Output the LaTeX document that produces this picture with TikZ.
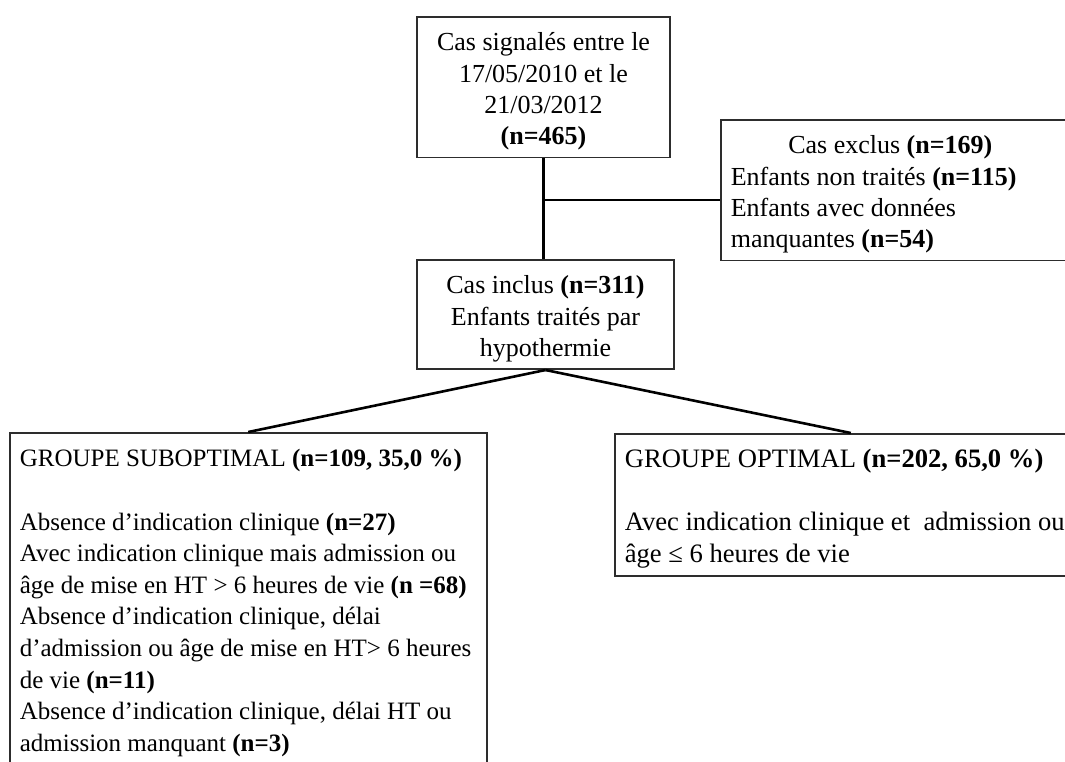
\documentclass[tikz,border=0pt]{standalone}
\usepackage{fontspec}
\setmainfont{Liberation Serif}
\usepackage{tikz}
\usetikzlibrary{positioning,calc}
\definecolor{cadreColor}{RGB}{45,45,45}
\newcommand{\hautL}{\spaceskip=0pt\xspaceskip=0pt\rule{0pt}{13.3pt}}
\tikzset{
    boite/.style={
        draw=cadreColor,
        line width=0.8pt,
        inner xsep=5pt,
        inner ysep=3.7pt,
        font=\fontsize{13}{15.6}\selectfont
    },
    boiteC/.style={
        boite,
        align=center
    },
    boiteG/.style={
        boite,
        align=left,
        anchor=north west
    },
    lien/.style={
        draw=black,
        line width=1.3pt
    }
}

\begin{document}
\begin{tikzpicture}[x=0.5pt, y=-0.5pt]
    \useasboundingbox (0,0) rectangle (1065,761);
    \clip (0,0) rectangle (1065,761);

    % Cas signalés
    \node[boiteC, anchor=north, minimum width=126.5pt] (signales) at (543.5,16)
        {\hautL Cas signalés entre le\\17/05/2010 et le\\21/03/2012\\\textbf{(n=465)}};

    % Cas exclus
    \node[boiteG, text width=167.5pt] (exclus) at (720,119)
        {\hautL\makebox[\hsize]{Cas exclus \textbf{(n=169)}\hspace{8pt}}\\
         Enfants non traités \textbf{(n=115)}\\
         Enfants avec données\\
         manquantes \textbf{(n=54)}};

    % Cas inclus
    \node[boiteC, anchor=north, minimum width=128.5pt] (inclus) at (545.5,259)
        {\hautL Cas inclus \textbf{(n=311)}\\Enfants traités par\\hypothermie};

    % Les deux groupes
    \node[boiteG, text width=228.5pt, font=\fontsize{12.5}{15.8}\selectfont] (subopt) at (9,432)
        {\hautL GROUPE SUBOPTIMAL \textbf{(n=109, 35,0 \%)}\\[15.8pt]
         Absence d'indication clinique \textbf{(n=27)}\\
         Avec indication clinique mais admission ou\\
         âge de mise en HT > 6 heures de vie \textbf{(n =68)}\\
         Absence d'indication clinique, délai\\
         d'admission ou âge de mise en HT> 6 heures\\
         de vie \textbf{(n=11)}\\
         Absence d'indication clinique, délai HT ou\\
         admission manquant \textbf{(n=3)}\rule[-15pt]{0pt}{15pt}};
    \node[boiteG, text width=226pt, font=\fontsize{13.3}{16}\selectfont] (optimal) at (614,433)
        {\hautL GROUPE OPTIMAL \textbf{(n=202, 65,0 \%)}\\[15.5pt]
         Avec indication clinique et\ \ admission ou\\
         âge ≤ 6 heures de vie};

    % Liens
    \draw[lien] (signales.south) -- (signales.south |- inclus.north);
    \coordinate (embranchement) at (signales.south |- 0,200);
    \draw[lien] (embranchement) -- (embranchement -| exclus.west);
    \draw[lien] (inclus.south) -- (subopt.north);
    \draw[lien] (inclus.south) -- (optimal.north);
\end{tikzpicture}
\end{document}
